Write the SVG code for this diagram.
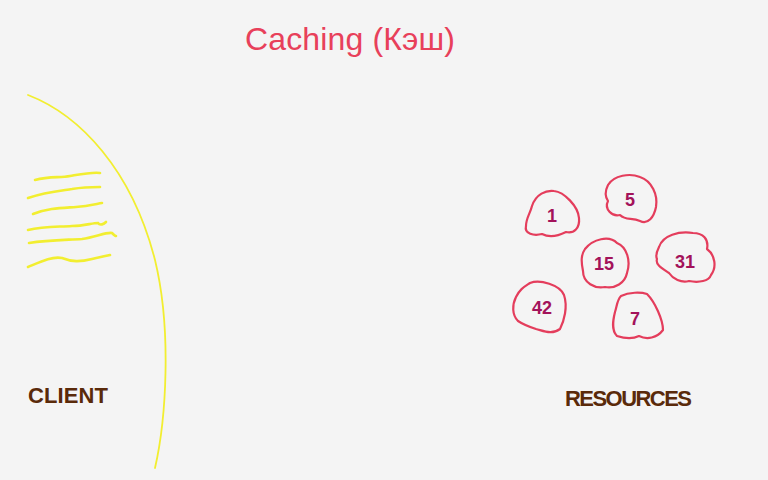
<svg xmlns="http://www.w3.org/2000/svg" width="768" height="480" viewBox="0 0 768 480">
<style>
.bg{fill:#f4f4f4}
.title{font-family:"Liberation Sans",Arial,sans-serif;font-size:32px;fill:#e8405a}
.label{font-family:"Liberation Sans",Arial,sans-serif;font-size:22px;fill:#5a2a0a;font-weight:bold}
.blob{fill:none;stroke:#e43d5c;stroke-width:2.2;stroke-linejoin:round}
.num{font-family:"Liberation Sans",Arial,sans-serif;font-size:18px;fill:#a3125a;text-anchor:middle;font-weight:bold}
.yl{fill:none;stroke:#f2ee30;stroke-linecap:round}
</style>
<rect class="bg" width="768" height="480"/>
<text id="title" class="title" x="245" y="50" textLength="210">Caching (Кэш)</text>
<g id="client">
<path class="yl" stroke-width="1.8" d="M28,95 C80,115 132,170 155,260 C172,330 166,420 155,468"/>
<path class="yl" stroke-width="2.6" d="M35,180 C50,176 60,178 70,176 C82,174 92,172 100,173"/>
<path class="yl" stroke-width="2.6" d="M28,198 C45,192 58,191 72,189 C84,187 94,187 100,187"/>
<path class="yl" stroke-width="2.6" d="M33,214 C48,208 62,208 76,207 C88,206 96,204 102,203"/>
<path class="yl" stroke-width="2.6" d="M28,230 C44,226 58,227 72,226 C84,226 92,223 98,223 C100,226 104,224 106,222"/>
<path class="yl" stroke-width="2.6" d="M29,243 C48,240 66,240 82,239 C96,237 106,232 112,233 C114,235 115,236 116,236"/>
<path class="yl" stroke-width="2.6" d="M28,267 C40,262 52,256 62,258 C72,262 80,262 92,259 C100,257 106,256 110,255"/>
<text class="label" x="28" y="403" textLength="80">CLIENT</text>
</g>
<g id="resources">
<g id="r1" transform="translate(552,214)">
<path class="blob" d="M-20,-8 C-16,-20 -6,-24 2,-23 C12,-22 26,-8 27,4 C28,14 22,20 14,18 C6,22 -2,24 -10,20 C-18,22 -28,20 -26,12 C-26,4 -22,0 -20,-8 Z"/>
<text class="num" x="0" y="8">1</text>
</g>
<g id="r5" transform="translate(630,199)">
<path class="blob" d="M-22,-14 C-16,-24 0,-26 10,-22 C22,-18 28,-4 26,8 C24,18 18,26 10,22 C2,18 -4,22 -10,16 C-18,18 -26,10 -22,2 C-26,-4 -24,-10 -22,-14 Z"/>
<text class="num" x="0" y="7">5</text>
</g>
<g id="r15" transform="translate(605,263)">
<path class="blob" d="M-20,-14 C-12,-24 4,-28 12,-20 C22,-16 26,-2 22,10 C20,20 10,26 0,24 C-10,26 -22,20 -22,8 C-24,-2 -24,-8 -20,-14 Z"/>
<text class="num" x="-1" y="7">15</text>
</g>
<g id="r31" transform="translate(685,259)">
<path class="blob" d="M-26,-12 C-22,-24 -6,-28 8,-26 C18,-26 24,-20 22,-10 C30,-4 32,8 26,16 C24,22 14,24 4,22 C-4,24 -12,20 -16,14 C-22,10 -30,6 -28,0 C-30,-4 -28,-8 -26,-12 Z"/>
<text class="num" x="0" y="9">31</text>
</g>
<g id="r42" transform="translate(540,307)">
<path class="blob" d="M-10,-24 C0,-28 20,-22 24,-12 C28,0 24,14 20,22 C12,28 4,24 -4,22 C-10,20 -16,18 -22,14 C-28,8 -28,-2 -24,-10 C-20,-18 -16,-20 -10,-24 Z"/>
<text class="num" x="2" y="7">42</text>
</g>
<g id="r7" transform="translate(637,316)">
<path class="blob" d="M-16,-20 C-8,-24 4,-24 10,-22 C18,-14 26,4 26,14 C20,22 10,24 2,20 C-6,24 -14,22 -20,20 C-26,14 -24,4 -22,-4 C-20,-10 -20,-16 -16,-20 Z"/>
<text class="num" x="-2" y="9">7</text>
</g>
<text class="label" x="565" y="406" textLength="127">RESOURCES</text>
</g>
</svg>
